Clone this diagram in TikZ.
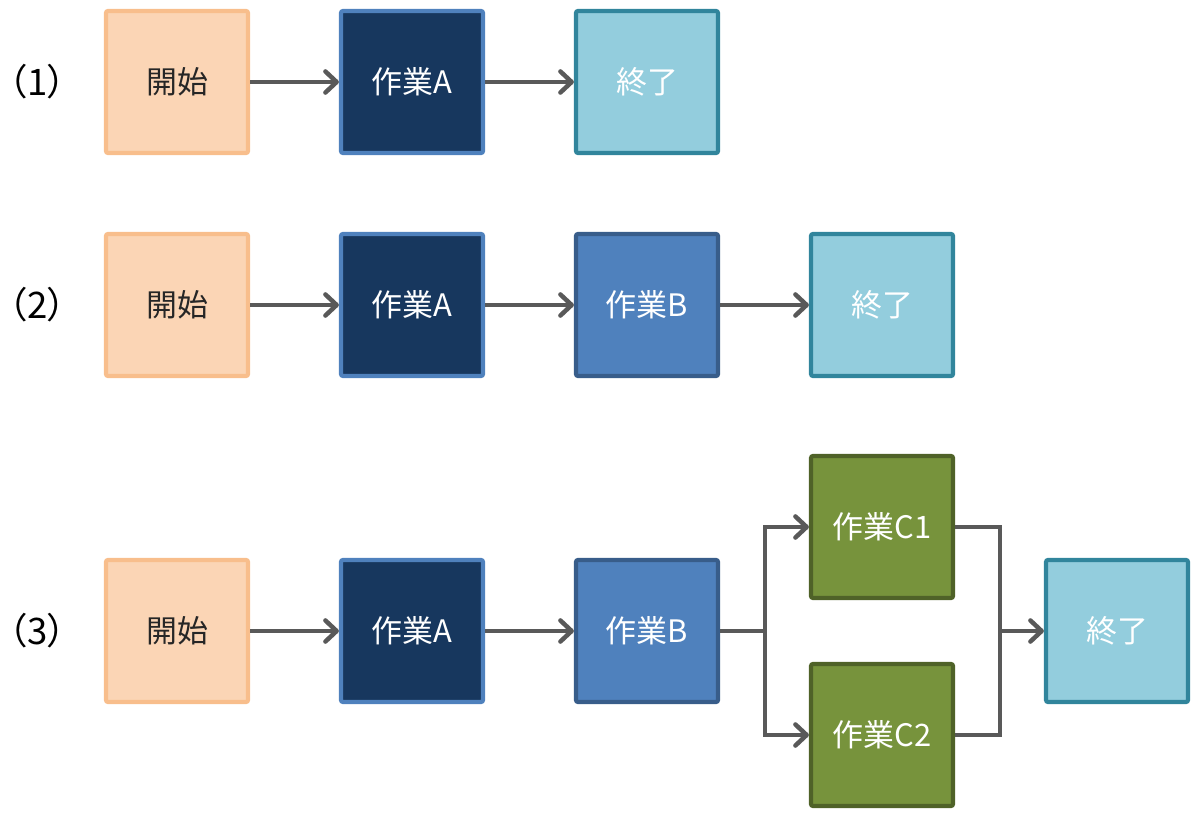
\documentclass[tikz,border=0pt]{standalone}
\usepackage{fontspec}
\setmainfont{Noto Sans CJK JP}
\newfontfamily\labelfont{Noto Sans CJK JP}[RawFeature=+palt]
\usetikzlibrary{arrows.meta}
\definecolor{startfill}{HTML}{FBD5B5}
\definecolor{startline}{HTML}{F8BE8C}
\definecolor{afill}{HTML}{17375E}
\definecolor{aline}{HTML}{4F81BD}
\definecolor{bfill}{HTML}{4F81BD}
\definecolor{bline}{HTML}{385D8A}
\definecolor{cfill}{HTML}{77933C}
\definecolor{cline}{HTML}{4F6228}
\definecolor{endfill}{HTML}{93CDDD}
\definecolor{endline}{HTML}{31859C}
\definecolor{arrowgray}{HTML}{595959}
\tikzset{
  box/.style={draw, line width=3pt, minimum size=3.55cm, rounded corners=1.5pt,
    inner sep=0pt, font=\fontsize{22}{26}\selectfont, text=white},
  startbox/.style={box, fill=startfill, draw=startline, text=black!85},
  abox/.style={box, fill=afill, draw=aline},
  bbox/.style={box, fill=bfill, draw=bline},
  cbox/.style={box, fill=cfill, draw=cline},
  endbox/.style={box, fill=endfill, draw=endline},
  flow/.style={draw=arrowgray, line width=3.2pt},
  arr/.style={flow, -{Straight Barb[length=8pt, width=15pt, line width=3.2pt, round]}},
  rowlabel/.style={inner sep=0pt, font=\labelfont\fontsize{26}{30}\selectfont}
}
\begin{document}
\begin{tikzpicture}
\useasboundingbox (0,0) rectangle (30,-20.45);
% row labels
\node[rowlabel] (l1) at (0.93, -2.05) {（1）};
\node[rowlabel] (l2) at (0.93, -7.625) {（2）};
\node[rowlabel] (l3) at (0.93, -15.775) {（3）};
% nodes (1)
\node[startbox] (s1) at (4.425, -2.05) {開始};
\node[abox] (a1) at (10.3, -2.05) {作業A};
\node[endbox] (e1) at (16.175, -2.05) {終了};
% nodes (2)
\node[startbox] (s2) at (4.425, -7.625) {開始};
\node[abox] (a2) at (10.3, -7.625) {作業A};
\node[bbox] (b2) at (16.175, -7.625) {作業B};
\node[endbox] (e2) at (22.05, -7.625) {終了};
% nodes (3)
\node[startbox] (s3) at (4.425, -15.775) {開始};
\node[abox] (a3) at (10.3, -15.775) {作業A};
\node[bbox] (b3) at (16.175, -15.775) {作業B};
\node[cbox] (c1) at (22.05, -13.175) {作業C1};
\node[cbox] (c2) at (22.05, -18.375) {作業C2};
\node[endbox] (e3) at (27.925, -15.775) {終了};
\coordinate (split) at (19.125, -15.775);
\coordinate (merge) at (25.0, -15.775);
% arrows
\draw[arr] (s1) -- (a1);
\draw[arr] (a1) -- (e1);
\draw[arr] (s2) -- (a2);
\draw[arr] (a2) -- (b2);
\draw[arr] (b2) -- (e2);
\draw[arr] (s3) -- (a3);
\draw[arr] (a3) -- (b3);
\draw[flow] (b3.east) -- (split);
\draw[arr] (split) |- (c1.west);
\draw[arr] (split) |- (c2.west);
\draw[flow] (c1.east) -| (merge) |- (c2.east);
\draw[arr] (merge) -- (e3);
\end{tikzpicture}
\end{document}
